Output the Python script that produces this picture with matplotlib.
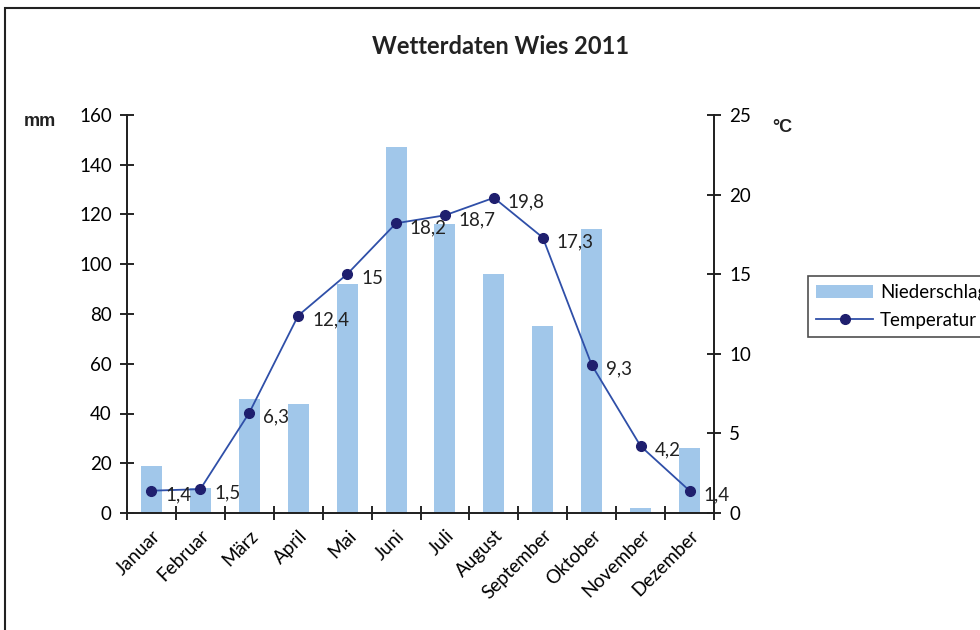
import matplotlib
matplotlib.use("Agg")
import matplotlib.pyplot as plt
import numpy as np
from matplotlib.patches import Rectangle

months = ["Januar", "Februar", "März", "April", "Mai", "Juni", "Juli",
          "August", "September", "Oktober", "November", "Dezember"]
niederschlag = [19, 10, 46, 44, 92, 147, 116, 96, 75, 114, 2, 26]
temperatur = [1.4, 1.5, 6.3, 12.4, 15, 18.2, 18.7, 19.8, 17.3, 9.3, 4.2, 1.4]
temp_labels = ["1,4", "1,5", "6,3", "12,4", "15", "18,2", "18,7", "19,8",
               "17,3", "9,3", "4,2", "1,4"]

plt.rcParams['font.family'] = ['Lato', 'DejaVu Sans']

fig = plt.figure(figsize=(9.8, 6.3), dpi=100)
ax = fig.add_axes([127/980, 1-513/630, (714-127)/980, (513-115)/630])
ax2 = ax.twinx()

x = np.arange(len(months))
bars = ax.bar(x, niederschlag, width=0.43, color="#A1C7EA", label="Niederschlag", zorder=2)
ax.set_ylim(0, 160)
ax.set_xlim(-0.5, len(months) - 0.5)
ax.set_yticks(range(0, 161, 20))

ax2.set_ylim(0, 25)
ax2.set_yticks(range(0, 26, 5))
line, = ax2.plot(x, temperatur, color="#2F4FA8", lw=1.3, marker="o", ms=7,
                 mfc="#1F1F6E", mec="#1F1F6E", label="Temperatur", zorder=3)
for xi, yi, lab in zip(x, temperatur, temp_labels):
    ax2.annotate(lab, (xi, yi), xytext=(10, -3), textcoords="offset points",
                 ha="left", va="center", fontsize=13.5, color="#222222")

# x ticks at category boundaries, labels at centers
ax.set_xticks(np.arange(-0.5, len(months), 1.0))
ax.set_xticklabels([])
ax.set_xticks(x, minor=True)
ax.set_xticklabels(months, minor=True, rotation=45, ha="right",
                   rotation_mode="anchor", fontsize=13.5)
ax.tick_params(axis="x", which="minor", length=0, pad=10)
ax.tick_params(axis="x", which="major", direction="inout", length=10, width=1.2)
ax.tick_params(axis="y", direction="inout", length=10, width=1.2, labelsize=13.5, pad=6)
ax2.tick_params(axis="y", direction="inout", length=10, width=1.2, labelsize=13.5, pad=6)

for a in (ax, ax2):
    a.spines["top"].set_visible(False)
    for s in ("left", "right", "bottom"):
        a.spines[s].set_linewidth(1.3)
        a.spines[s].set_color("#222222")
ax.set_facecolor("none")

fig.text(501/980, 1-47/630, "Wetterdaten Wies 2011", ha="center", va="center",
         fontsize=17, fontweight="bold", color="#222222")
fig.text(40/980, 1-122/630, "mm", ha="center", va="center", fontsize=13,
         fontweight="bold", color="#222222", family="Liberation Sans")
fig.text(782/980, 1-128/630, "°C", ha="center", va="center", fontsize=13,
         fontweight="bold", color="#222222", family="Liberation Sans")

leg = fig.legend([bars, line], ["Niederschlag", "Temperatur"], loc="upper left",
                 bbox_to_anchor=(808/980, 1-276/630), frameon=True, fancybox=False,
                 edgecolor="#222222", fontsize=13.5, handlelength=3, borderpad=0.45,
                 labelspacing=0.55, handletextpad=0.4, borderaxespad=0)
leg.get_frame().set_linewidth(1.2)

fig.patches.append(Rectangle((5/980, -0.1), 1.2, 1.1 - 8/630, transform=fig.transFigure,
                             fill=False, edgecolor="#222222", lw=1.5))

fig.savefig("out.png", dpi=100)
